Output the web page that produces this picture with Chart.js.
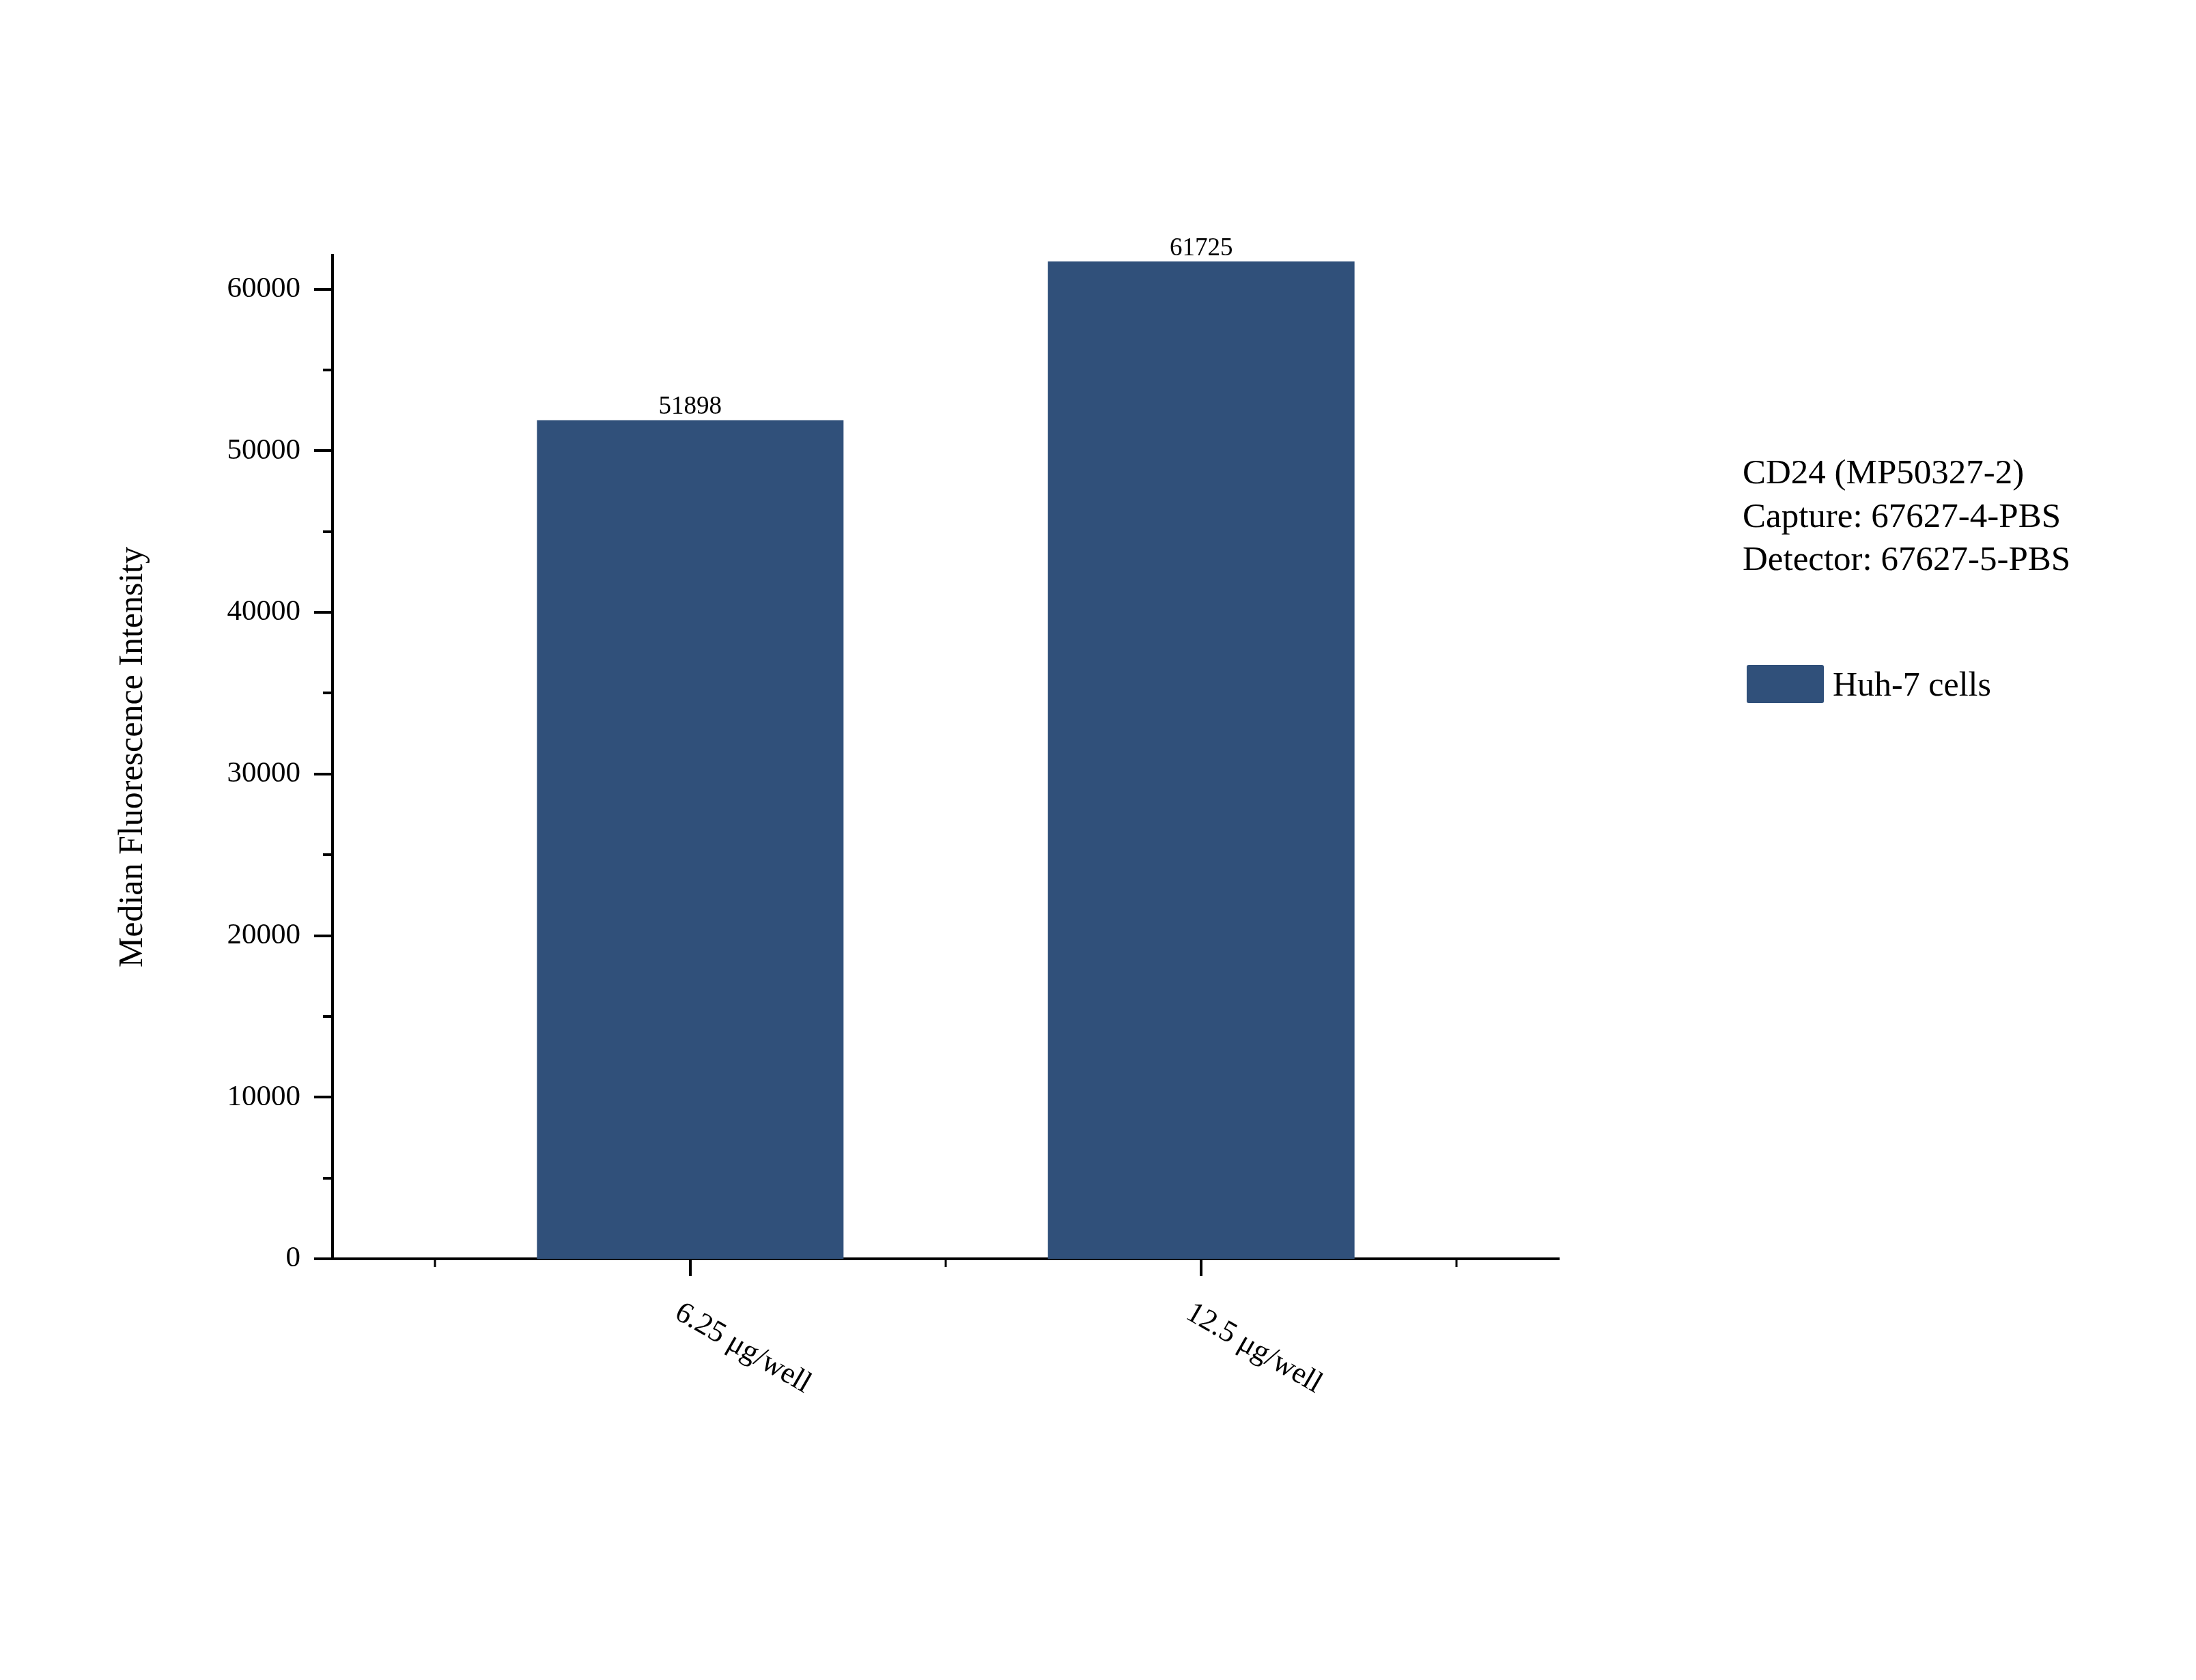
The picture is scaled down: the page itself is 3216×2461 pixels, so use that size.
<!DOCTYPE html>
<html>
<head>
<meta charset="utf-8">
<title>CD24 MFI</title>
<script src="https://cdn.jsdelivr.net/npm/chart.js@4/dist/chart.umd.min.js"></script>
<style>
  html, body { margin: 0; padding: 0; background: #fff; }
  canvas { display: block; }
</style>
</head>
<body>
<canvas id="mfiChart" width="3216" height="2461" style="width:3216px;height:2461px"></canvas>
<script>
// ------------------------------
// Data
// ------------------------------

const categories = ["6.25 μg/well", "12.5 μg/well"];
const mfiValues = [51898, 61725];
const seriesName = "Huh-7 cells";
const yTicks = [0, 10000, 20000, 30000, 40000, 50000, 60000];
const notes = ["CD24 (MP50327-2)", "Capture: 67627-4-PBS", "Detector: 67627-5-PBS"];

const barColor = "#30507a";
const serif = "'Liberation Serif', 'Times New Roman', serif";

// ------------------------------
// Extra drawing: ticks, labels, legend, notes
// ------------------------------

const decorations = {
  id: "decorations",
  afterDraw(chart) {
    const ctx = chart.ctx;
    const x = chart.scales.x;
    const y = chart.scales.y;
    const area = chart.chartArea;

    ctx.save();
    ctx.strokeStyle = "#000";
    ctx.fillStyle = "#000";

    // y ticks, major + minor
    for (let v = 0; v <= yTicks[yTicks.length - 1]; v += 5000) {
      const py = Math.round(y.getPixelForValue(v));
      const major = yTicks.includes(v);
      ctx.lineWidth = 4;
      ctx.beginPath();
      ctx.moveTo(area.left - (major ? 27 : 14), py);
      ctx.lineTo(area.left, py);
      ctx.stroke();
    }

    // x ticks, major at bars, minor in between
    for (let v = 0.5; v <= categories.length + 0.5; v += 0.5) {
      const px = Math.round(x.getPixelForValue(v));
      const major = Number.isInteger(v);
      ctx.lineWidth = major ? 4 : 3;
      ctx.beginPath();
      ctx.moveTo(px, area.bottom);
      ctx.lineTo(px, area.bottom + (major ? 25 : 12));
      ctx.stroke();
    }

    // rotated category labels
    ctx.font = "44px " + serif;
    ctx.textAlign = "left";
    ctx.textBaseline = "middle";
    categories.forEach((c, i) => {
      const px = x.getPixelForValue(i + 1);
      ctx.save();
      ctx.translate(px - 19, area.bottom + 76);
      ctx.rotate(30 * Math.PI / 180);
      ctx.fillText(c, 0, 0);
      ctx.restore();
    });

    // values above bars
    ctx.font = "37px " + serif;
    ctx.textAlign = "center";
    ctx.textBaseline = "alphabetic";
    chart.getDatasetMeta(0).data.forEach((bar, i) => {
      ctx.fillText(String(mfiValues[i]), bar.x, bar.y - 9);
    });

    // y axis title
    ctx.save();
    ctx.font = "50px " + serif;
    ctx.textAlign = "center";
    ctx.textBaseline = "middle";
    ctx.translate(195, (area.top + area.bottom) / 2);
    ctx.rotate(-Math.PI / 2);
    ctx.fillText("Median Fluorescence Intensity", 0, 0);
    ctx.restore();

    // notes
    ctx.font = "51px " + serif;
    ctx.textAlign = "left";
    ctx.textBaseline = "alphabetic";
    notes.forEach((n, i) => {
      ctx.fillText(n, 2552, 708 + i * 63.5);
    });

    // legend
    const ds = chart.data.datasets[0];
    ctx.fillStyle = ds.backgroundColor;
    ctx.beginPath();
    ctx.roundRect(2558, 974, 113, 56, 3);
    ctx.fill();
    ctx.fillStyle = "#000";
    ctx.font = "50px " + serif;
    ctx.fillText(ds.label, 2684, 1019);

    ctx.restore();
  }
};

// ------------------------------
// Chart
// ------------------------------

new Chart(document.getElementById("mfiChart"), {
  type: "bar",
  data: {
    datasets: [{
      label: seriesName,
      data: mfiValues.map((v, i) => ({ x: i + 1, y: v })),
      backgroundColor: barColor,
      borderWidth: 0,
      barPercentage: 0.6,
      categoryPercentage: 1
    }]
  },
  options: {
    responsive: false,
    devicePixelRatio: 1,
    animation: false,
    layout: { padding: { left: 0, top: 374, right: 933, bottom: 0 } },
    plugins: {
      legend: { display: false },
      tooltip: { enabled: false }
    },
    scales: {
      x: {
        type: "linear",
        offset: false,
        min: 0.3,
        max: categories.length + 0.7,
        afterBuildTicks(scale) {
          scale.ticks = categories.map((c, i) => ({ value: i + 1 }));
        },
        ticks: { display: false },
        grid: { display: false, drawTicks: false, offset: false },
        border: { display: true, color: "#000", width: 4 },
        afterFit(scale) { scale.height = 617; }
      },
      y: {
        min: 0,
        max: 62100,
        ticks: {
          stepSize: 10000,
          padding: 47,
          color: "#000",
          font: { family: serif, size: 43 },
          callback: v => String(v)
        },
        afterBuildTicks(scale) {
          scale.ticks = yTicks.map(v => ({ value: v }));
        },
        grid: { display: false, drawTicks: false },
        border: { display: true, color: "#000", width: 4 },
        afterFit(scale) { scale.width = 487; }
      }
    }
  },
  plugins: [decorations]
});
</script>
</body>
</html>
